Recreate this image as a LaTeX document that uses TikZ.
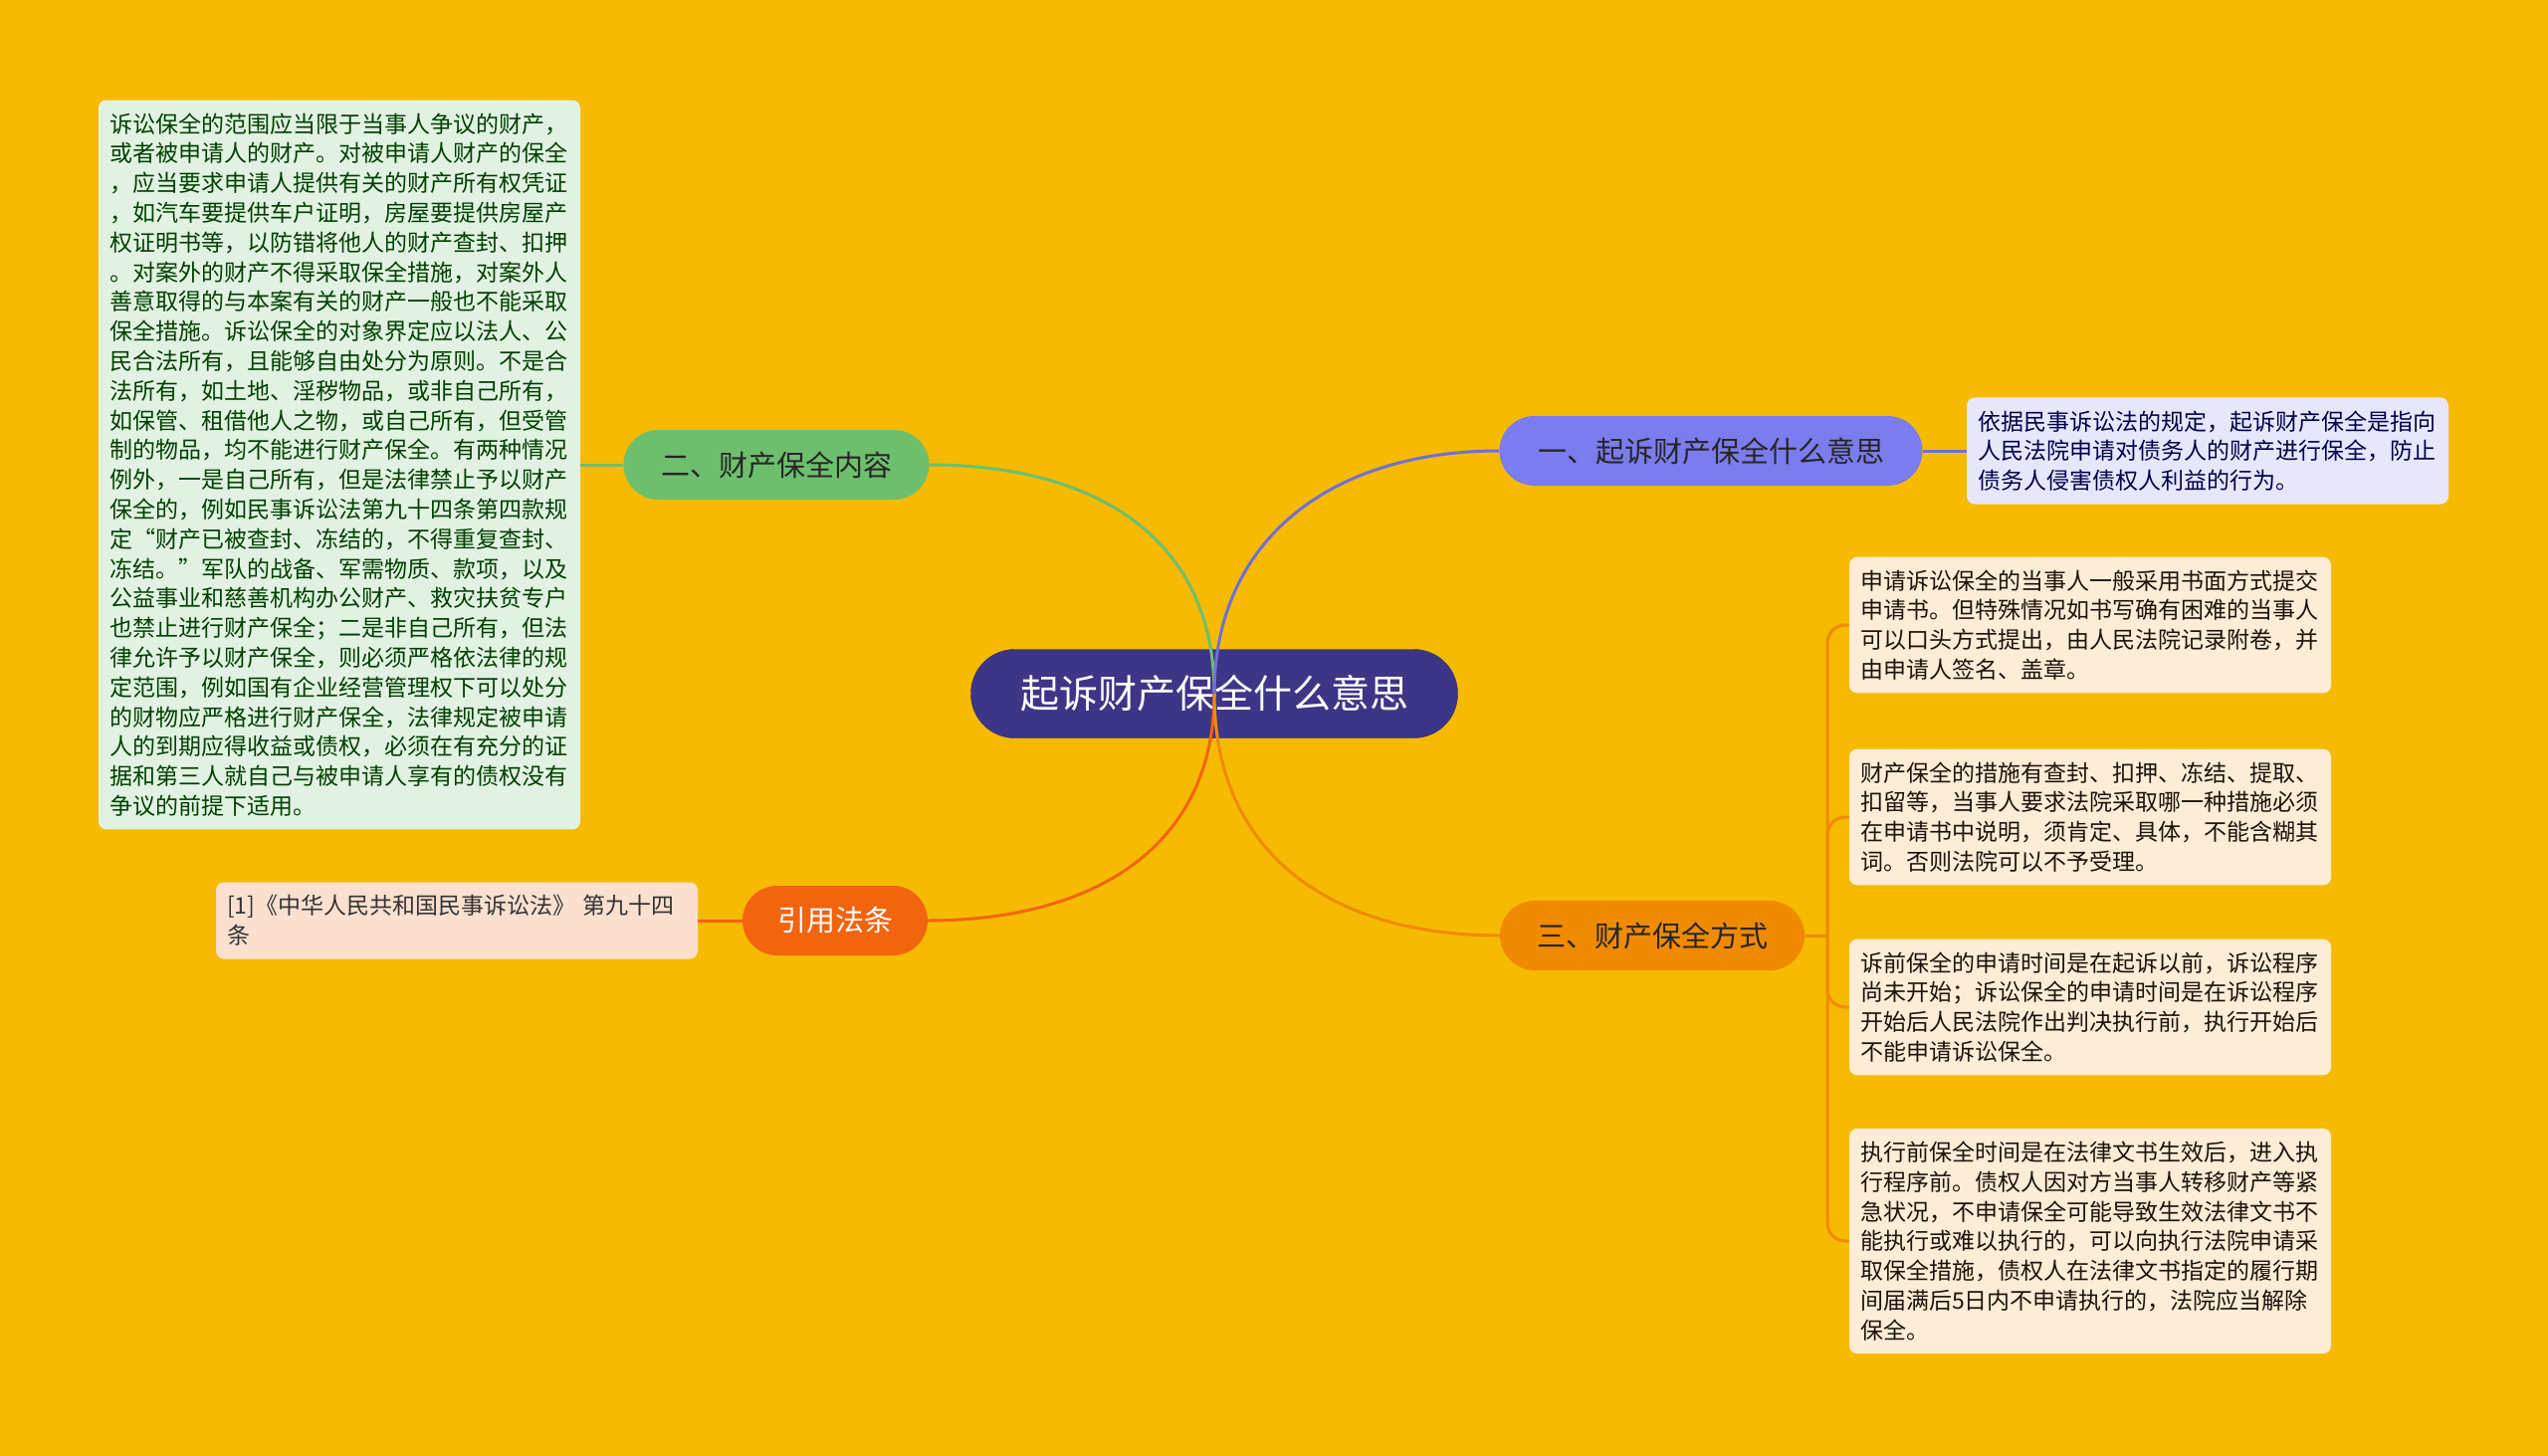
\documentclass[tikz,border=0pt]{standalone}
\usepackage{fontspec}
\newfontfamily\cjk{Noto Sans CJK SC}
\usetikzlibrary{positioning}
\definecolor{bgyellow}{HTML}{F6BA00}
\definecolor{rootblue}{HTML}{3D3586}
\definecolor{purplebr}{HTML}{7B7CEE}
\definecolor{greenbr}{HTML}{6DBF6E}
\definecolor{orangebr}{HTML}{F08A00}
\definecolor{redbr}{HTML}{F2640E}
\tikzset{
  basic/.style  = {rectangle, inner sep=0pt, align=center, font=\cjk},
  root/.style   = {basic, fill=rootblue, draw=rootblue!85!black, text=white,
                   rounded corners=44pt, minimum width=489pt, minimum height=89pt,
                   font=\cjk\fontsize{39}{44}\selectfont},
  branch/.style = {basic, rounded corners=35pt, minimum height=70pt, text=black!85,
                   font=\cjk\fontsize{29}{34}\selectfont},
  leaf/.style   = {basic, align=left, rounded corners=8pt, inner xsep=11pt,
                   inner ysep=13pt, text width=462pt,
                   font=\cjk\fontsize{23}{29.8}\selectfont},
  edge/.style   = {line width=3pt}
}

\begin{document}
\begin{tikzpicture}[x=1pt, y=-1pt]
\useasboundingbox (0,0) rectangle (2560,1463);
\fill[bgyellow] (0,0) rectangle (2560,1463);

% centre of the map
\node[root] (root) at (1220,697) {起诉财产保全什么意思};

% the four main topics
\node[branch, fill=purplebr, minimum width=425pt] (n1) at (1719,453) {一、起诉财产保全什么意思};
\node[branch, fill=greenbr, minimum width=307pt] (n2) at (780,467) {二、财产保全内容};
\node[branch, fill=orangebr, minimum width=306pt] (n3) at (1660,940) {三、财产保全方式};
\node[branch, fill=redbr, text=white, minimum width=186pt] (n4) at (839,925) {引用法条};

% connectors from the centre
\draw[edge, greenbr] (root.center) .. controls (1220,540) and (1100,467) .. (n2.east);
\draw[edge, purplebr!90!black] (root.center) .. controls (1220,540) and (1340,453) .. (n1.west);
\draw[edge, redbr] (root.center) .. controls (1220,850) and (1100,925) .. (n4.east);
\draw[edge, orangebr] (root.center) .. controls (1220,860) and (1340,940) .. (n3.west);

% details
\node[leaf, fill=purplebr!18!white, text=blue!30!black] (l1) at (2218,453) {依据民事诉讼法的规定，起诉财产保全是指向\\
人民法院申请对债务人的财产进行保全，防止\\
债务人侵害债权人利益的行为。};
\draw[edge, purplebr!90!black] (n1.east) -- (l1.west);

\node[leaf, fill=greenbr!20!white, text=green!25!black] (l2) at (341,467) {诉讼保全的范围应当限于当事人争议的财产，\\
或者被申请人的财产。对被申请人财产的保全\\
，应当要求申请人提供有关的财产所有权凭证\\
，如汽车要提供车户证明，房屋要提供房屋产\\
权证明书等，以防错将他人的财产查封、扣押\\
。对案外的财产不得采取保全措施，对案外人\\
善意取得的与本案有关的财产一般也不能采取\\
保全措施。诉讼保全的对象界定应以法人、公\\
民合法所有，且能够自由处分为原则。不是合\\
法所有，如土地、淫秽物品，或非自己所有，\\
如保管、租借他人之物，或自己所有，但受管\\
制的物品，均不能进行财产保全。有两种情况\\
例外，一是自己所有，但是法律禁止予以财产\\
保全的，例如民事诉讼法第九十四条第四款规\\
定“财产已被查封、冻结的，不得重复查封、\\
冻结。”军队的战备、军需物质、款项，以及\\
公益事业和慈善机构办公财产、救灾扶贫专户\\
也禁止进行财产保全；二是非自己所有，但法\\
律允许予以财产保全，则必须严格依法律的规\\
定范围，例如国有企业经营管理权下可以处分\\
的财物应严格进行财产保全，法律规定被申请\\
人的到期应得收益或债权，必须在有充分的证\\
据和第三人就自己与被申请人享有的债权没有\\
争议的前提下适用。};
\draw[edge, greenbr] (n2.west) -- (l2.east);

\node[leaf, fill=redbr!20!white, text=black!80] (l4) at (459,925) {[1]《中华人民共和国民事诉讼法》 第九十四\\
条};
\draw[edge, redbr] (n4.west) -- (l4.east);

\node[leaf, fill=orangebr!16!white, text=black!85!brown] (l31) at (2100,628) {申请诉讼保全的当事人一般采用书面方式提交\\
申请书。但特殊情况如书写确有困难的当事人\\
可以口头方式提出，由人民法院记录附卷，并\\
由申请人签名、盖章。};
\node[leaf, fill=orangebr!16!white, text=black!85!brown] (l32) at (2100,821) {财产保全的措施有查封、扣押、冻结、提取、\\
扣留等，当事人要求法院采取哪一种措施必须\\
在申请书中说明，须肯定、具体，不能含糊其\\
词。否则法院可以不予受理。};
\node[leaf, fill=orangebr!16!white, text=black!85!brown] (l33) at (2100,1012) {诉前保全的申请时间是在起诉以前，诉讼程序\\
尚未开始；诉讼保全的申请时间是在诉讼程序\\
开始后人民法院作出判决执行前，执行开始后\\
不能申请诉讼保全。};
\node[leaf, fill=orangebr!16!white, text=black!85!brown] (l34) at (2100,1247) {执行前保全时间是在法律文书生效后，进入执\\
行程序前。债权人因对方当事人转移财产等紧\\
急状况，不申请保全可能导致生效法律文书不\\
能执行或难以执行的，可以向执行法院申请采\\
取保全措施，债权人在法律文书指定的履行期\\
间届满后5日内不申请执行的，法院应当解除\\
保全。};

\coordinate (t3) at (1836,940);
\draw[edge, orangebr] (n3.east) -- (t3);
\foreach \l in {l31,l32,l33,l34}
  \draw[edge, orangebr, rounded corners=18pt] (t3) |- (\l.west);

\end{tikzpicture}
\end{document}
